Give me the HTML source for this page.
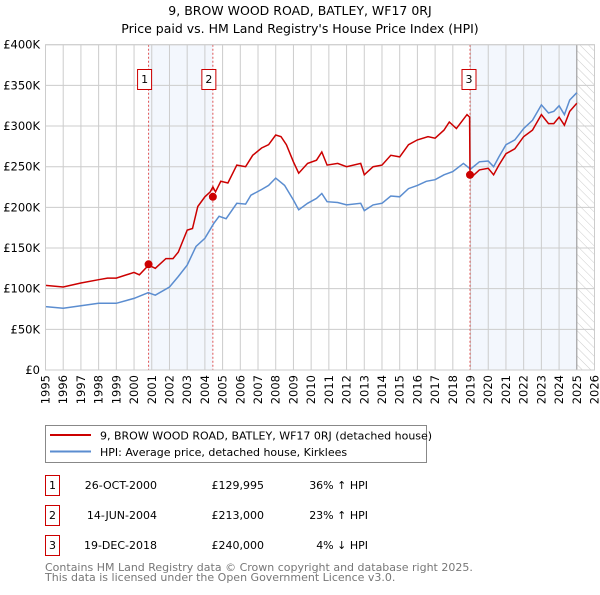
<!DOCTYPE html>
<html><head><meta charset="utf-8"><style>
body{margin:0;background:#fff;font-family:"Liberation Sans","DejaVu Sans",sans-serif;}
svg text{font-family:"DejaVu Sans","Liberation Sans",sans-serif;}
</style></head><body>
<svg id="chart" width="600" height="590" viewBox="0 0 600 590" xmlns="http://www.w3.org/2000/svg">
<defs><pattern id="hatch" width="6" height="6" patternUnits="userSpaceOnUse" patternTransform="rotate(-45)"><line x1="0" y1="0" x2="0" y2="6" stroke="#ccc" stroke-width="1"/></pattern></defs>
<text x="300" y="15" text-anchor="middle" font-size="12.5" fill="#000">9, BROW WOOD ROAD, BATLEY, WF17 0RJ</text>
<text x="300" y="33" text-anchor="middle" font-size="12.5" fill="#000">Price paid vs. HM Land Registry's House Price Index (HPI)</text>
<g id="plot"></g>
<g>
<rect x="45.5" y="425.5" width="381" height="37" fill="#fff" stroke="#888"/>
<line x1="50" y1="435" x2="91" y2="435" stroke="#cc0000" stroke-width="2"/>
<text x="100" y="439.5" font-size="11">9, BROW WOOD ROAD, BATLEY, WF17 0RJ (detached house)</text>
<line x1="50" y1="451.5" x2="91" y2="451.5" stroke="#5b8dd0" stroke-width="2"/>
<text x="100" y="456" font-size="11">HPI: Average price, detached house, Kirklees</text>
</g>
<g font-size="11">
<rect x="45.5" y="475.5" width="14" height="20" fill="#fff" stroke="#cc0000"/><text x="52.5" y="489" text-anchor="middle">1</text>
<text x="157" y="489" text-anchor="end">26-OCT-2000</text>
<text x="264" y="489" text-anchor="end">£129,995</text>
<text x="368" y="489" text-anchor="end">36% ↑ HPI</text>
<rect x="45.5" y="505.5" width="14" height="20" fill="#fff" stroke="#cc0000"/><text x="52.5" y="519" text-anchor="middle">2</text>
<text x="157" y="519" text-anchor="end">14-JUN-2004</text>
<text x="264" y="519" text-anchor="end">£213,000</text>
<text x="368" y="519" text-anchor="end">23% ↑ HPI</text>
<rect x="45.5" y="535.5" width="14" height="20" fill="#fff" stroke="#cc0000"/><text x="52.5" y="549" text-anchor="middle">3</text>
<text x="157" y="549" text-anchor="end">19-DEC-2018</text>
<text x="264" y="549" text-anchor="end">£240,000</text>
<text x="368" y="549" text-anchor="end">4% ↓ HPI</text>
</g>
<text x="45" y="571" font-size="11" fill="#777">Contains HM Land Registry data © Crown copyright and database right 2025.</text>
<text x="45" y="581" font-size="11" fill="#777">This data is licensed under the Open Government Licence v3.0.</text>
</svg>
<script>
const yTicks=[0,50,100,150,200,250,300,350,400];
const yTickLabels=["£0","£50K","£100K","£150K","£200K","£250K","£300K","£350K","£400K"];
const xYears=[1995,1996,1997,1998,1999,2000,2001,2002,2003,2004,2005,2006,2007,2008,2009,2010,2011,2012,2013,2014,2015,2016,2017,2018,2019,2020,2021,2022,2023,2024,2025,2026];
const hpiT=[1995,1996,1997,1998,1999,2000,2000.8,2001.2,2002,2002.5,2003,2003.5,2004,2004.5,2004.8,2005.2,2005.8,2006.3,2006.6,2007.2,2007.6,2008,2008.5,2009,2009.3,2009.8,2010.3,2010.6,2010.9,2011.5,2012,2012.8,2013,2013.5,2014,2014.5,2015,2015.5,2016,2016.5,2017,2017.5,2018,2018.6,2019,2019.5,2020,2020.3,2020.6,2021,2021.5,2022,2022.5,2023,2023.4,2023.7,2024,2024.3,2024.6,2025];
const hpiV=[78,76,79,82,82,88,95,92,102,115,129,152,162,180,189,186,205,204,215,222,227,236,227,209,197,205,211,217,207,206,203,205,196,203,205,214,213,223,227,232,234,240,244,254,247,256,257,250,262,277,283,297,307,326,316,318,325,314,332,341];
const redT=[1995,1996,1997,1998,1998.5,1999,2000,2000.3,2000.82,2001.2,2001.8,2002.2,2002.5,2003,2003.3,2003.6,2004,2004.3,2004.45,2004.6,2004.9,2005.3,2005.8,2006.3,2006.7,2007.2,2007.6,2008,2008.3,2008.6,2009,2009.3,2009.8,2010.3,2010.6,2010.9,2011.5,2012,2012.8,2013,2013.5,2014,2014.5,2015,2015.5,2016,2016.6,2017,2017.5,2017.8,2018.2,2018.8,2018.95,2018.97,2019.1,2019.5,2020,2020.3,2020.6,2021,2021.5,2022,2022.5,2023,2023.4,2023.7,2024,2024.3,2024.6,2025];
const redV=[104,102,107,111,113,113,120,117,129,125,137,137,145,172,174,201,213,219,225,219,232,230,252,250,264,273,277,289,287,277,256,242,254,258,268,252,254,250,254,240,250,252,264,262,277,283,287,285,295,305,297,314,311,240,238,246,248,240,252,266,272,287,295,314,303,303,311,301,318,328];
const saleT=[2000.82,2004.45,2018.97];
const saleV=[129.995,213,240];
const saleLabels=["1","2","3"];

const X0=45.5,X1=594.5,Y0=370,Y1=44.7;
const xs=t=>X0+(t-1995)/(2026-1995)*(X1-X0);
const ys=v=>Y0-v/400*(Y0-Y1);
const NS="http://www.w3.org/2000/svg";
const plot=document.getElementById('plot');
function mk(tag,attrs,parent){const e=document.createElementNS(NS,tag);for(const k in attrs)e.setAttribute(k,attrs[k]);(parent||plot).appendChild(e);return e;}

let e;
e=mk('rect',{x:xs(saleT[0]),y:Y1,width:xs(saleT[1])-xs(saleT[0]),height:Y0-Y1,fill:'#eef3fc',opacity:0.7});


e=mk('rect',{x:xs(saleT[2]),y:Y1,width:xs(2025)-xs(saleT[2]),height:Y0-Y1,fill:'#eef3fc',opacity:0.7});


e=mk('rect',{x:xs(2025),y:Y1,width:X1-xs(2025),height:Y0-Y1,fill:'url(#hatch)'});



xYears.forEach(y=>{
  e=mk('line',{x1:xs(y),x2:xs(y),y1:Y1,y2:Y0,stroke:'#ccc','stroke-width':1});
  
  
  e=mk('text',{x:0,y:0,'font-size':11.5,'text-anchor':'end',transform:`translate(${xs(y)+4},${Y0+5}) rotate(-90)`});
  e.textContent=y;
  
  
});
yTicks.forEach((v,i)=>{
  e=mk('line',{x1:X0,x2:X1,y1:ys(v),y2:ys(v),stroke:'#ccc','stroke-width':1});
  
  
  e=mk('text',{x:40,y:ys(v)+4,'font-size':11.5,'text-anchor':'end'});
  e.textContent=yTickLabels[i];
  
  
});
e=mk('line',{x1:xs(2025),x2:xs(2025),y1:Y1,y2:Y0,stroke:'#999','stroke-width':1});



saleT.forEach((t,i)=>{
  e=mk('line',{x1:xs(t),x2:xs(t),y1:Y1,y2:Y0,stroke:'#e05555','stroke-width':1,'stroke-dasharray':'2,2'});
  
  
});

function path(T,V){return T.map((t,i)=>(i?'L':'M')+xs(t).toFixed(1)+','+ys(V[i]).toFixed(1)).join('');}
e=mk('path',{d:path(hpiT,hpiV),fill:'none',stroke:'#5b8dd0','stroke-width':1.5});


e=mk('path',{d:path(redT,redV),fill:'none',stroke:'#cc0000','stroke-width':1.5});



saleT.forEach((t,i)=>{
  e=mk('circle',{cx:xs(t),cy:ys(saleV[i]),r:4,fill:'#cc0000'});
  
  
  const bx=xs(t)-(i==2?1:4)-7;
  e=mk('rect',{x:bx,y:69.5,width:14,height:20,fill:'#fff',stroke:'#cc0000'});
  
  
  e=mk('text',{x:bx+7,y:83,'font-size':11,'text-anchor':'middle'});
  e.textContent=saleLabels[i];
  
  
});
e=mk('rect',{x:X0,y:Y1,width:X1-X0,height:Y0-Y1,fill:'none',stroke:'#ccc'});


</script>
</body></html>
